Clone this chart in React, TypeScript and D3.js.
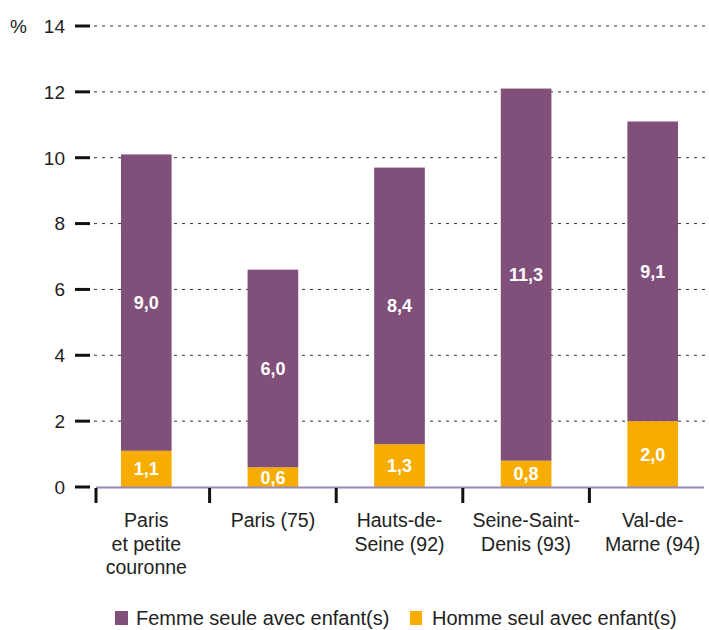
import React from "react";
import * as d3 from "d3";

const categories = [
  ["Paris", "et petite", "couronne"],
  ["Paris (75)"],
  ["Hauts-de-", "Seine (92)"],
  ["Seine-Saint-", "Denis (93)"],
  ["Val-de-", "Marne (94)"],
];
const homme = [1.1, 0.6, 1.3, 0.8, 2.0];
const femme = [9.0, 6.0, 8.4, 11.3, 9.1];
const yTicks = [0, 2, 4, 6, 8, 10, 12, 14];
const seriesNames = ["Femme seule avec enfant(s)", "Homme seul avec enfant(s)"];

const PURPLE = "#80507b";
const YELLOW = "#f7ad00";
const FONT = "'Liberation Sans', Arial, sans-serif";

export default function App() {
  const W = 709, H = 630;
  const y = d3.scaleLinear().domain([0, 14]).range([487, 26]);
  const x = d3
    .scaleBand<number>()
    .domain(d3.range(categories.length))
    .range([83, 716])
    .paddingInner(0.6)
    .paddingOuter(0.3);
  const step = x.step();
  const bandStart = (i: number) => (x(i) as number) + x.bandwidth() / 2 - step / 2;
  const fmt = (v: number) => v.toFixed(1).replace(".", ",");

  return (
    <svg width={W} height={H} style={{ position: "absolute", left: 0, top: 0 }} fontFamily={FONT}>
      {yTicks.map((t) => (
        <g key={t}>
          <line x1={75} x2={90} y1={y(t)} y2={y(t)} stroke="#111" strokeWidth={3} />
          {t > 0 && (
            <line x1={94} x2={709} y1={y(t)} y2={y(t)} stroke="#333" strokeWidth={1} strokeDasharray="3,5" />
          )}
          <text x={65} y={y(t)} dy="0.36em" textAnchor="end" fontSize={19} fill="#222">
            {t}
          </text>
        </g>
      ))}
      <text x={10} y={y(14)} dy="0.36em" fontSize={19} fill="#222">%</text>

      {categories.map((c, i) => {
        const bx = x(i) as number;
        const bw = x.bandwidth();
        const h0 = y(0), h1 = y(homme[i]), h2 = y(homme[i] + femme[i]);
        return (
          <g key={i}>
            <rect x={bx} y={h1} width={bw} height={h0 - h1} fill={YELLOW} />
            <rect x={bx} y={h2} width={bw} height={h1 - h2} fill={PURPLE} />
            <text x={bx + bw / 2} y={(h0 + h1) / 2} dy="0.36em" textAnchor="middle" fontSize={18} fontWeight="bold" fill="#fff">
              {fmt(homme[i])}
            </text>
            <text x={bx + bw / 2} y={(h1 + h2) / 2} dy="0.36em" textAnchor="middle" fontSize={18} fontWeight="bold" fill="#fff">
              {fmt(femme[i])}
            </text>
            {c.map((line, j) => (
              <text key={j} x={bx + bw / 2} y={527 + j * 23.5} textAnchor="middle" fontSize={19.5} fill="#222">
                {line}
              </text>
            ))}
          </g>
        );
      })}

      <line x1={96} x2={704} y1={y(0) + 0.5} y2={y(0) + 0.5} stroke="#9a88b8" strokeWidth={2} />
      {categories.map((_, i) => {
        const tx = i === 0 ? 96 : bandStart(i);
        return <line key={i} x1={tx} x2={tx} y1={488} y2={503} stroke="#111" strokeWidth={3} />;
      })}

      <rect x={115} y={611} width={13} height={14} fill={PURPLE} />
      <text x={136} y={618} dy="0.36em" fontSize={20} fill="#222">{seriesNames[0]}</text>
      <rect x={410} y={611} width={12} height={14} fill={YELLOW} />
      <text x={432} y={618} dy="0.36em" fontSize={20} fill="#222">{seriesNames[1]}</text>
    </svg>
  );
}
